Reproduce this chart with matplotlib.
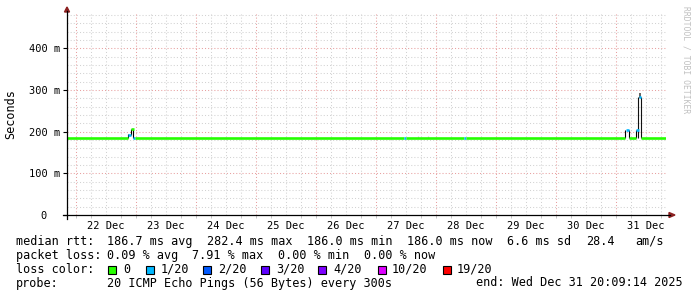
import numpy as np
import matplotlib.pyplot as plt
from matplotlib.patches import Rectangle, Polygon
from matplotlib.lines import Line2D

plt.rcParams['font.family'] = 'DejaVu Sans Mono'

W, H = 697, 297

# x axis in days counted from 21 Dec 00:00
t_start, t_end = 0.85, 10.83
day_pos = [1.5, 2.5, 3.5, 4.5, 5.5, 6.5, 7.5, 8.5, 9.5, 10.5]
day_labels = ['22 Dec', '23 Dec', '24 Dec', '25 Dec', '26 Dec',
              '27 Dec', '28 Dec', '29 Dec', '30 Dec', '31 Dec']
y_ticks = [0, 100, 200, 300, 400]
y_labels = ['0  ', '100 m', '200 m', '300 m', '400 m']

# median rtt (ms) per stretch, with lost pings out of 20
med_t0 = [0.85, 1.867, 1.917, 1.955, 1.988, 6.467, 6.50, 7.467, 7.50,
          10.162, 10.217, 10.333, 10.383, 10.412]
med_t1 = [1.867, 1.908, 1.958, 1.988, 6.467, 6.50, 7.467, 7.50, 10.155,
          10.212, 10.326, 10.383, 10.412, 10.83]
med_ms = [186, 192, 206, 186, 186, 186, 186, 186, 186,
          205, 186, 204, 283, 186]
med_loss = [0, 1, 0, 1, 0, 1, 0, 1, 0, 1, 0, 1, 1, 0]

# smoke (spread of the single pings)
smoke_t = [1.870, 1.912, 1.950, 6.690, 6.857,
           10.155, 10.208, 10.328, 10.370, 10.408]
smoke_lo = [186, 192, 186, 186, 186, 186, 186, 186, 186, 186]
smoke_hi = [195, 206, 206, 189, 189, 205, 205, 205, 283, 283]
smoke_col = ['#000000', '#000000', '#000000', '#cccccc', '#cccccc',
             '#000000', '#000000', '#000000', '#111111', '#111111']

loss_steps = [0, 1, 2, 3, 4, 10, 19]
loss_names = ['0', '1/20', '2/20', '3/20', '4/20', '10/20', '19/20']
loss_colors = ['#26ff00', '#00b8ff', '#0059ff', '#5e00ff', '#7e00ff',
               '#dd00ff', '#ff0000']
loss_map = dict(zip(loss_steps, loss_colors))


def fx(x):
  return x / W


def fy(y):
  return 1 - y / H


fig = plt.figure(figsize=(W / 100, H / 100), dpi=100, facecolor='white')
ax = fig.add_axes([fx(67), fy(215), (666 - 67) / W, (215 - 13) / H])
ax.set_xlim(t_start, t_end)
ax.set_ylim(0, 485)
for s in ax.spines.values():
  s.set_visible(False)

# grid
for v in range(20, 485, 20):
  if v % 100 == 0:
    ax.axhline(v, color='#e8a0a0', lw=0.75, ls=(0, (1, 2)), zorder=1)
  else:
    ax.axhline(v, color='#d2d2d2', lw=0.75, ls=(0, (1, 2)), zorder=1)
for d in np.arange(1.0, 10.8, 0.25):
  if abs(d - round(d)) < 1e-6:
    ax.axvline(d, color='#e8a0a0', lw=0.75, ls=(0, (1, 2)), zorder=1)
  else:
    ax.axvline(d, color='#d2d2d2', lw=0.75, ls=(0, (1, 2)), zorder=1)

# smoke + median
ax.vlines(smoke_t, smoke_lo, smoke_hi, colors=smoke_col, lw=0.8, zorder=3)
ax.bar([10.39], [13], bottom=[281], width=0.036, color='#666666', zorder=3)
ax.hlines(med_ms, med_t0, med_t1, colors=[loss_map[l] for l in med_loss],
          lw=1.9, zorder=4, capstyle='butt')

ax.set_xticks(day_pos)
ax.set_xticklabels(day_labels, fontsize=7.5)
ax.tick_params(axis='x', length=0, pad=4)
ax.set_xticks(np.arange(1.0, 10.8, 0.25), minor=True)
ax.tick_params(axis='x', which='minor', length=2, color='#bbbbbb')
ax.set_yticks(y_ticks)
ax.set_yticklabels(y_labels, fontsize=7.5)
ax.tick_params(axis='y', length=3, width=0.8, pad=2)

# axes with arrows
arrow = '#8b2020'
fig.add_artist(Line2D([fx(67), fx(67)], [fy(219), fy(11)], color='black', lw=0.9))
fig.add_artist(Line2D([fx(63), fx(670)], [fy(215), fy(215)], color='black', lw=0.9))
fig.add_artist(Polygon([(fx(67), fy(7)), (fx(64.5), fy(12)), (fx(69.5), fy(12))],
                       closed=True, color=arrow))
fig.add_artist(Polygon([(fx(675), fy(215)), (fx(669), fy(212.5)), (fx(669), fy(217.5))],
                       closed=True, color=arrow))

fig.text(fx(11), fy(114), 'Seconds', rotation=90, ha='center', va='center', fontsize=8.5)
fig.text(fx(686), fy(60), 'RRDTOOL / TOBI OETIKER', rotation=-90, ha='center',
         va='center', fontsize=5.8, color='#c0c0c0')

# legend
fs = 8.5
rows = [
  (241.5, [(16, 'median rtt:'), (107, '186.7 ms avg'), (207, '282.4 ms max'),
           (307, '186.0 ms min'), (407, '186.0 ms now'), (507, '6.6 ms sd'),
           (586, '28.4'), (635, 'am/s')]),
  (255.5, [(16, 'packet loss:'), (107, '0.09 % avg'), (192, '7.91 % max'),
           (278, '0.00 % min'), (364, '0.00 % now')]),
  (269.5, [(16, 'loss color:')]),
  (283, [(16, 'probe:'), (107, '20 ICMP Echo Pings (56 Bytes) every 300s'),
         (476, 'end: Wed Dec 31 20:09:14 2025')]),
]
for y, items in rows:
  for x, s in items:
    fig.text(fx(x), fy(y), s, ha='left', va='center', fontsize=fs)

box_x = [108, 146, 203, 261, 318, 378, 443]
text_x = [123, 161, 218, 276, 333, 392, 457]
for bx, tx, c, name in zip(box_x, text_x, loss_colors, loss_names):
  fig.add_artist(Rectangle((fx(bx), fy(273.5)), 8 / W, 8 / H, facecolor=c,
                           edgecolor='black', lw=0.8))
  fig.text(fx(tx), fy(269.5), name, ha='left', va='center', fontsize=fs)

fig.savefig('out.png', dpi=100, facecolor='white')
